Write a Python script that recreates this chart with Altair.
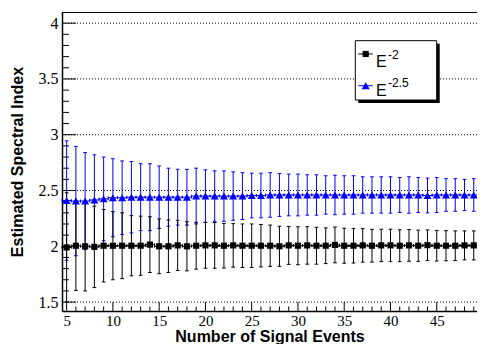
import altair as alt
import pandas as pd

# ---- data ----
n_events = list(range(5, 50))
e2_index = [1.99, 2.005, 2.0, 1.995, 2.005, 2.005, 2.005, 2.005, 2.005, 2.015,
            2.0, 2.0, 2.008, 2.0, 2.005, 2.008, 2.008, 2.005, 2.008, 2.005,
            2.005, 2.005, 2.005, 2.0, 2.008, 2.005, 2.008, 2.005, 2.005, 2.012,
            2.005, 2.005, 2.008, 2.005, 2.008, 2.008, 2.005, 2.008, 2.005, 2.01,
            2.005, 2.005, 2.005, 2.008, 2.008]
e2_err = [0.49, 0.40, 0.40, 0.365, 0.325, 0.305, 0.295, 0.27, 0.265, 0.25,
          0.245, 0.235, 0.225, 0.22, 0.21, 0.205, 0.205, 0.20, 0.195, 0.195,
          0.195, 0.19, 0.185, 0.18, 0.17, 0.17, 0.168, 0.165, 0.16, 0.16,
          0.157, 0.155, 0.15, 0.147, 0.145, 0.145, 0.143, 0.142, 0.14, 0.137,
          0.137, 0.135, 0.133, 0.13, 0.13]
e25_index = [2.41, 2.405, 2.405, 2.415, 2.425, 2.435, 2.435, 2.44, 2.44, 2.44,
             2.44, 2.44, 2.44, 2.44, 2.45, 2.45, 2.45, 2.45, 2.45, 2.45,
             2.455, 2.455, 2.46, 2.46, 2.46, 2.46, 2.46, 2.46, 2.46, 2.46,
             2.46, 2.46, 2.46, 2.46, 2.46, 2.46, 2.46, 2.46, 2.46, 2.455,
             2.46, 2.46, 2.46, 2.46, 2.46]
e25_err = [0.535, 0.49, 0.435, 0.405, 0.375, 0.35, 0.33, 0.32, 0.30, 0.30,
           0.28, 0.26, 0.25, 0.25, 0.25, 0.235, 0.226, 0.226, 0.217, 0.21,
           0.20, 0.20, 0.20, 0.192, 0.187, 0.187, 0.181, 0.181, 0.172, 0.177,
           0.172, 0.172, 0.163, 0.163, 0.163, 0.163, 0.157, 0.163, 0.157, 0.156,
           0.157, 0.146, 0.146, 0.14, 0.146]

series_names = ["E-2", "E-2.5"]
series_colors = ["#000000", "#0000ff"]

x_major = [5, 10, 15, 20, 25, 30, 35, 40, 45]
x_minor = [6, 7, 8, 9, 11, 12, 13, 14, 16, 17, 18, 19, 21, 22, 23, 24,
           26, 27, 28, 29, 31, 32, 33, 34, 36, 37, 38, 39, 41, 42, 43, 44,
           46, 47, 48, 49]
y_major = [1.5, 2.0, 2.5, 3.0, 3.5, 4.0]
y_minor = [1.6, 1.7, 1.8, 1.9, 2.1, 2.2, 2.3, 2.4, 2.6, 2.7, 2.8, 2.9,
           3.1, 3.2, 3.3, 3.4, 3.6, 3.7, 3.8, 3.9]

X_DOMAIN = [4.5, 49.35]
Y_DOMAIN = [1.42, 4.1]
W, H = 415, 299
PAD = {"left": 54, "top": 4, "right": 0, "bottom": 33}

SERIF = "Liberation Serif, Times New Roman, Times, DejaVu Serif, serif"
SANS = "Liberation Sans, Arial, Helvetica, sans-serif"


def make_df(idx, err):
    d = pd.DataFrame({"n": n_events, "idx": idx, "err": err})
    d["lo"] = d["idx"] - d["err"]
    d["hi"] = d["idx"] + d["err"]
    d["capl"] = d["n"] - 0.2
    d["capr"] = d["n"] + 0.2
    d["xl"] = d["n"] - 0.5
    d["xr"] = d["n"] + 0.5
    d["ys0"] = d["idx"] - 0.012
    d["ys1"] = d["idx"] + 0.012
    return d


df_black = make_df(e2_index, e2_err)
df_blue = make_df(e25_index, e25_err)

xs = alt.Scale(domain=X_DOMAIN, nice=False, zero=False)
ys = alt.Scale(domain=Y_DOMAIN, nice=False, zero=False)

X_TITLE = "Number of Signal Events"
Y_TITLE = "Estimated Spectral Index"
x_axis = alt.Axis(values=x_major, title=X_TITLE, format="d",
                  labelPadding=2, labelFontSize=15, titlePadding=0)
y_axis = alt.Axis(values=y_major, title=Y_TITLE, format="~g",
                  labelPadding=4, labelFontSize=16, titlePadding=13)


def X(field):
    return alt.X(field, scale=xs, axis=x_axis, title=X_TITLE)


def Y(field):
    return alt.Y(field, scale=ys, axis=y_axis, title=Y_TITLE)


# grid (dotted)
grid = alt.Chart(pd.DataFrame({"v": y_major})).mark_rule(
    color="black", strokeWidth=1, strokeDash=[1, 2]).encode(
    y=Y("v:Q"), x=alt.value(0), x2=alt.value(W))

# top frame line (right side is cut off in the reference)
one = pd.DataFrame({"a": [0]})
top_frame = alt.Chart(one).mark_rule(color="black", strokeWidth=1).encode(
    y=alt.value(0.5), x=alt.value(0), x2=alt.value(W))

# inward ticks
ytick_maj = alt.Chart(pd.DataFrame({"v": y_major})).mark_rule(
    color="black", strokeWidth=1).encode(
    y=Y("v:Q"), x=alt.value(0), x2=alt.value(14))
ytick_min = alt.Chart(pd.DataFrame({"v": y_minor})).mark_rule(
    color="black", strokeWidth=1).encode(
    y=Y("v:Q"), x=alt.value(0), x2=alt.value(7))
xtick_maj = alt.Chart(pd.DataFrame({"v": x_major})).mark_rule(
    color="black", strokeWidth=1).encode(
    x=X("v:Q"), y=alt.value(H), y2=alt.value(H - 9))
xtick_min = alt.Chart(pd.DataFrame({"v": x_minor})).mark_rule(
    color="black", strokeWidth=1).encode(
    x=X("v:Q"), y=alt.value(H), y2=alt.value(H - 4.5))


def err_layers(d, color):
    base = alt.Chart(d)
    vbar = base.mark_rule(color=color, strokeWidth=1).encode(
        x=X("n:Q"), y=Y("lo:Q"), y2="hi:Q")
    cap_lo = base.mark_rule(color=color, strokeWidth=1).encode(
        x=X("capl:Q"), x2="capr:Q", y=Y("lo:Q"))
    cap_hi = base.mark_rule(color=color, strokeWidth=1).encode(
        x=X("capl:Q"), x2="capr:Q", y=Y("hi:Q"))
    hbar = base.mark_rule(color=color, strokeWidth=1).encode(
        x=X("xl:Q"), x2="xr:Q", y=Y("idx:Q"))
    hcap_l = base.mark_rule(color=color, strokeWidth=1).encode(
        x=X("xl:Q"), y=Y("ys0:Q"), y2="ys1:Q")
    hcap_r = base.mark_rule(color=color, strokeWidth=1).encode(
        x=X("xr:Q"), y=Y("ys0:Q"), y2="ys1:Q")
    return [vbar, cap_lo, cap_hi, hbar, hcap_l, hcap_r]


blue_err = err_layers(df_blue, series_colors[1])
black_err = err_layers(df_black, series_colors[0])

blue_pts = alt.Chart(df_blue).mark_point(
    shape="triangle-up", filled=True, size=65, color=series_colors[1], opacity=1).encode(
    x=X("n:Q"), y=Y("idx:Q"))
black_pts = alt.Chart(df_black).mark_point(
    shape="square", filled=True, size=38, color=series_colors[0], opacity=1).encode(
    x=X("n:Q"), y=Y("idx:Q"))

# ---- legend (drawn by hand, ROOT style) ----
leg_shadow = alt.Chart(one).mark_rect(color="black").encode(
    x=alt.value(296.3), x2=alt.value(377.7), y=alt.value(31.7), y2=alt.value(91))
leg_box = alt.Chart(one).mark_rect(fill="white", stroke="black", strokeWidth=1).encode(
    x=alt.value(293.3), x2=alt.value(374.7), y=alt.value(28.7), y2=alt.value(88))
leg_line1 = alt.Chart(one).mark_rule(color=series_colors[0]).encode(
    x=alt.value(296.3), x2=alt.value(310.7), y=alt.value(42))
leg_line2 = alt.Chart(one).mark_rule(color=series_colors[1]).encode(
    x=alt.value(296.3), x2=alt.value(310.7), y=alt.value(73.7))
leg_sq = alt.Chart(one).mark_point(shape="square", filled=True, size=38,
                                   color=series_colors[0], opacity=1).encode(
    x=alt.value(303.7), y=alt.value(42))
leg_tri = alt.Chart(one).mark_point(shape="triangle-up", filled=True, size=65,
                                    color=series_colors[1], opacity=1).encode(
    x=alt.value(303.7), y=alt.value(73.7))


def txt(s, x, y, size):
    return alt.Chart(one).mark_text(text=s, font=SANS, fontSize=size,
                                    align="left", baseline="alphabetic",
                                    color="black").encode(
        x=alt.value(x), y=alt.value(y))


leg_texts = [txt("E", 314, 54.7, 16), txt("-2", 326, 47.3, 12),
             txt("E", 314, 84, 16), txt("-2.5", 326, 74.7, 12)]

chart = alt.layer(
    grid, top_frame, ytick_maj, ytick_min, xtick_maj, xtick_min,
    *blue_err, *black_err, blue_pts, black_pts,
    leg_shadow, leg_box, leg_line1, leg_line2, leg_sq, leg_tri, *leg_texts
).properties(
    width=W, height=H,
    autosize=alt.AutoSizeParams(type="none"),
    padding=PAD,
    background="white"
).configure_view(
    strokeWidth=0
).configure_axis(
    ticks=False, grid=False,
    labelFont=SERIF, labelColor="black",
    labelFlush=False, labelOverlap=False, labelBound=False,
    titleFont=SANS, titleFontWeight="bold", titleFontSize=16, titleColor="black",
    domainColor="black", domainWidth=1.5
)

chart.save("out.html", embed_options={"renderer": "svg", "actions": False})
